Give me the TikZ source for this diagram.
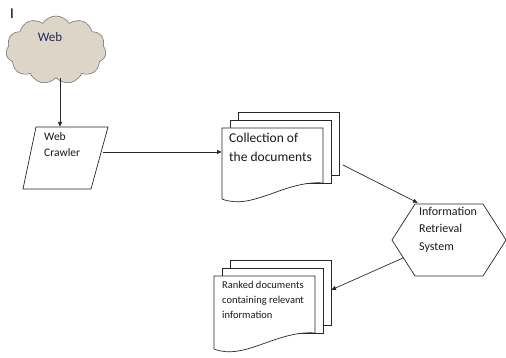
\documentclass[tikz,border=0pt]{standalone}
\usepackage{fontspec}
\setmainfont{Carlito}
\usetikzlibrary{arrows.meta,shapes.symbols}
\definecolor{cloudfill}{RGB}{221,213,200}
\definecolor{cloudline}{RGB}{120,118,112}
\definecolor{webtext}{RGB}{30,45,90}
\tikzset{
  shape line/.style={draw=black!85,line width=0.7pt,fill=white},
  link/.style={draw=black!85,line width=0.7pt,-{Latex[length=5pt,width=4.5pt]}},
  label text/.style={anchor=north west,align=left,inner sep=0pt,text=black!90}
}
% stack of three pages, front page at (#2,#3), width #4, right height #5
\newcommand{\docstack}[5]{%
  \draw[shape line] (#2+16,#3-16) rectangle (#2+16+#4,#3+#5-8);
  \draw[shape line] (#2+8,#3-8) rectangle (#2+8+#4,#3+#5);
  \draw[shape line] (#2,#3) -- (#2+#4,#3) -- (#2+#4,#3+#5)
    .. controls (#2+#4-38,#3+#5-3) and (#2+30,#3+#5+28) .. (#2,#3+#5+16) -- cycle;
  \coordinate (#1-in) at (#2,#3+24);
  \coordinate (#1-back) at (#2+16+#4,#3+14);
  \coordinate (#1-out) at (#2+20+#4,#3+37);
}
\begin{document}
\begin{tikzpicture}[x=1pt,y=-1pt]
  \useasboundingbox (0,0) rectangle (506,358);
  \node[inner sep=0pt,font=\fontsize{15}{15}\selectfont] (cursor) at (12,14) {I};
  % web cloud
  \node[cloud,cloud puffs=11,cloud puff arc=115,aspect=1.45,draw=cloudline,line width=0.6pt,
        fill=cloudfill,minimum width=100pt,minimum height=68pt,inner sep=0pt] (web) at (56,50) {};
  \node[inner sep=0pt,anchor=base,text=webtext,font=\fontsize{13}{15}\selectfont] (webtxt) at (50,42) {Web};
  % crawler
  \draw[shape line] (36,127) -- (108,127) -- (91,189) -- (23,189) -- cycle;
  \coordinate (crawl-top) at (60,127);
  \coordinate (crawl-out) at (103,152);
  \node[label text,font=\fontsize{11.5}{16.5}\selectfont] (crawltxt) at (44,132) {Web\\Crawler};
  % documents
  \docstack{coll}{222}{128}{101}{55}
  \node[label text,font=\fontsize{13.5}{19}\selectfont] (colltxt) at (229,133) {Collection of\\the documents};
  % retrieval system
  \draw[shape line] (392,240) -- (415,204) -- (483,204) -- (506,240) -- (483,276) -- (415,276) -- cycle;
  \coordinate (irs-in) at (418,203);
  \coordinate (irs-out) at (403,258);
  \node[label text,font=\fontsize{12}{17.5}\selectfont] (irstxt) at (419,207) {Information\\Retrieval\\System};
  % ranked output
  \docstack{rank}{214}{276}{101}{57}
  \node[label text,font=\fontsize{10.5}{15}\selectfont] (ranktxt) at (222,281) {Ranked documents\\containing relevant\\information};
  % links
  \draw[link] (crawl-top |- web.south) -- (crawl-top);
  \draw[link] (crawl-out) -- (coll-in);
  \draw[link] (coll-out) -- (irs-in);
  \draw[link] (irs-out) -- (rank-back);
\end{tikzpicture}
\end{document}
